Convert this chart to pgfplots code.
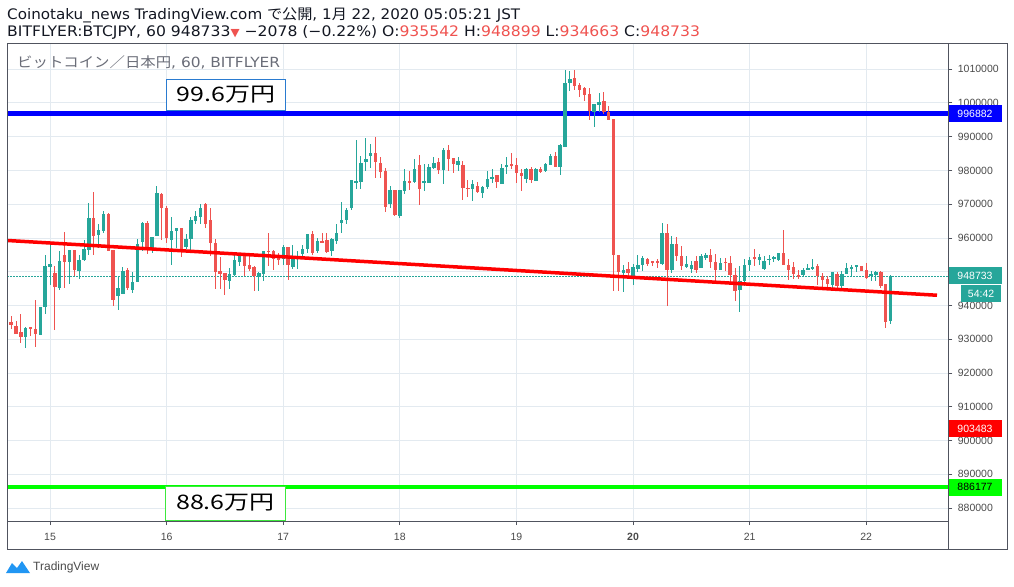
\documentclass[border=0pt]{standalone}
\usepackage{fontspec}
\setmainfont{Liberation Sans}
\newfontfamily\jp{Noto Sans CJK JP}
\newfontfamily\dv{DejaVu Sans}
\usepackage{pgfplots}
\pgfplotsset{compat=1.18}
\usepackage{pgfplotstable}
\usepackage{graphicx}
\definecolor{up}{HTML}{26A69A}
\definecolor{dn}{HTML}{EF5350}
\definecolor{gridc}{HTML}{E3EAF0}
\definecolor{axc}{HTML}{50535E}
\definecolor{txt}{HTML}{4A4A4A}
\definecolor{sub}{HTML}{6A6D78}
\definecolor{bbox}{HTML}{2A7BD0}
\definecolor{gbox}{HTML}{3DE83D}
\definecolor{tvblue}{HTML}{2196F3}
\definecolor{head}{HTML}{131722}

\pgfplotstableread{
i o h l c
1 931150 935500 930500 935110
5 930560 933720 927290 933330
8 931350 939660 931150 939660
9 939460 955090 937380 951830
10 951530 958560 946190 952420
12 945200 956280 944710 953310
14 952820 956580 946490 956380
16 950140 955090 947970 953610
17 953610 959250 953310 956870
18 956580 970230 955090 965780
20 960730 963990 956970 962210
21 962020 967850 961330 966960
24 942730 948760 938570 945300
25 943320 951430 943320 950340
27 944710 949950 943620 947080
28 946880 959740 946880 958360
29 958750 964690 956080 964390
31 956870 960330 955390 960330
32 960530 975370 960530 973200
35 959350 966170 952120 962020
36 962020 963010 957070 963010
38 957370 961030 956580 959550
39 959550 966170 956580 965180
40 964990 967950 964000 966470
41 966170 970130 964000 968750
47 947180 951140 945000 949450
48 949160 955090 948660 953410
49 952820 955590 951630 954800
53 948660 949850 944210 949650
54 949450 956280 947180 956280
58 953610 958060 952120 957370
60 951430 957760 950940 954600
61 954100 956080 950940 954800
62 955390 958060 954800 956870
63 956870 961030 955590 961030
65 956080 960040 955590 959050
68 956080 960040 954600 959840
69 959050 964000 958060 961520
70 964290 970720 961520 965180
71 965180 968940 964000 968150
72 968750 977050 968150 977050
73 976560 988930 974380 976760
74 976560 984280 974380 982100
75 982500 989720 979830 983290
76 984280 987740 980820 985270
80 969930 975370 968940 974090
82 966470 974090 965780 974090
83 973890 980320 972900 976860
85 976560 983290 976360 980320
87 976560 981800 973890 976860
88 976360 981800 976160 981010
89 980820 984080 980520 982100
91 980120 986750 975870 985960
94 981610 984080 979830 982790
97 974580 977050 970920 975870
99 973390 975370 971710 975170
100 975080 979830 974380 977350
101 977550 980320 976360 978050
103 975870 981810 975870 980620
104 981010 983980 978840 981510
108 977350 980820 976360 980320
110 976860 980820 976860 980320
112 979830 982300 979530 981810
113 981510 984970 981510 984280
115 981010 987740 978640 987450
116 986950 1009700 986950 1006040
117 1005850 1009310 1003570 1007030
122 997440 999810 992890 999610
123 999410 1002880 997440 1000400
128 949650 952130 943910 950640
130 948660 952130 946190 951430
131 950940 955090 949950 952130
132 951930 954600 950150 954100
136 952420 964490 952130 961330
138 950640 960530 949650 958060
141 951330 954800 951140 952320
142 950840 953310 949650 952130
144 951140 955290 951140 954600
145 954100 955590 953610 954900
148 950440 954100 950440 952620
152 944510 951630 938080 947370
153 947180 953610 945690 952130
154 951930 954300 950340 953610
156 953610 955290 952130 954400
157 950940 954600 950640 953310
158 953610 954800 952130 953810
159 953900 954600 952920 954400
160 953610 955590 953310 955590
165 948960 951130 948660 950640
166 950640 952420 950440 951130
167 950840 953810 950640 951430
171 946190 949950 945200 949950
173 945890 950150 944700 949450
174 949450 952620 949450 951130
175 950840 951930 948460 951430
176 951630 951830 949950 951830
179 948960 950340 947180 949350
180 948960 950150 947180 949850
183 935542 948899 934663 948733
}\upc

\pgfplotstableread{
i o h l c
2 935110 936990 933130 934120
3 934020 935500 931650 931650
4 932240 937580 928780 930560
6 933530 933720 930860 933230
7 933130 941740 927590 931450
11 949650 951630 932640 945400
13 955090 961720 945200 952820
15 956580 956580 948660 950440
19 965780 973490 954890 960730
22 967060 967460 956080 956080
23 956380 956380 939760 941540
26 950640 951130 944710 945200
30 964390 964980 955390 956870
33 972900 973400 959340 968750
34 968940 969440 958560 959840
37 963010 963010 954300 956280
42 970130 970430 963010 964190
43 965180 968940 954600 958360
44 958360 959840 945000 949850
45 950340 954300 945000 949450
46 949650 949650 943020 947670
50 954600 955590 948660 951830
51 952120 954600 950150 950940
52 951430 951630 944210 948860
55 956280 961520 951630 955790
56 956080 956580 950640 953810
57 955090 955590 952120 953410
59 957370 957370 947670 952120
64 961030 962020 955090 955590
66 959050 961520 958560 958850
67 959350 961520 955590 955790
77 985070 990020 977850 982500
78 982100 984080 977650 979530
79 979730 980620 967660 969140
81 974090 974090 966470 966770
84 976760 979830 974190 976560
86 981510 984470 969740 974380
90 982500 983790 978840 980120
92 985960 987540 979830 983490
93 983590 983590 979330 982000
95 981510 982790 971220 974880
96 974780 977050 972110 974580
98 975370 976660 973390 973590
102 978540 978540 974880 976560
105 981990 985070 980320 981510
106 981510 983780 976170 979140
107 979330 980520 973890 978340
109 980320 981010 976360 977150
111 980320 981110 979140 979630
114 984280 985470 981010 981010
118 1007330 1009700 1003870 1005050
119 1005250 1006040 1001790 1003870
120 1004360 1004760 1000600 1002380
121 1002580 1004560 994870 997630
124 1000600 1003370 996640 997340
125 997340 999120 994960 994960
126 995160 995160 944210 954900
127 954900 954900 944210 949950
129 950840 952820 948660 949650
133 953810 954100 951630 952330
134 953110 953310 951630 952620
135 953110 953900 951140 952620
137 961520 964000 939760 950640
139 958060 960240 953110 954600
140 954800 957570 950640 951630
143 953310 954600 949650 950440
146 955090 956580 951140 952920
147 952920 955290 947180 950440
149 952920 954100 950150 952620
150 952620 954600 946680 948960
151 949160 951130 941440 944210
155 954400 956770 951630 953810
161 955590 962210 951930 951930
162 952120 953610 947670 950640
163 951430 952820 947970 949350
164 949160 950640 947970 948460
168 951630 952320 946190 948660
169 948660 949650 945200 947670
170 947970 948860 945200 946390
172 949450 949950 945200 945890
177 951830 951830 950150 950150
178 950440 952620 947970 948170
181 949850 950150 945200 945890
182 946390 946390 933330 935110
}\dnc

\begin{document}
\begin{tikzpicture}[x=1pt,y=1pt]
\path[use as bounding box] (0,0) rectangle (1014,-586);
% header
\node[anchor=west,inner sep=0,text=head,font=\dv\fontsize{14.5}{16}\selectfont] at (7,-15) {\scalebox{1.045}[1]{Coinotaku\_news TradingView.com {\jp で公開}, 1{\jp 月} 22, 2020 05:05:21 JST}};
\node[anchor=west,inner sep=0,text=head,font=\dv\fontsize{14.5}{16}\selectfont] at (7,-32.5) {\scalebox{1.077}[1]{BITFLYER:BTCJPY, 60 948733{\color{dn}\fontsize{11}{11}\selectfont ▼} −2078 (−0.22\%) O:{\color{dn}935542} H:{\color{dn}948899} L:{\color{dn}934663} C:{\color{dn}948733}}};

\begin{axis}[
  at={(7pt,-521pt)}, anchor=south west,
  scale only axis, width=941.3pt, height=477.7pt,
  xmin=14.631, xmax=22.704, ymin=876150, ymax=1017650,
  clip mode=individual,
  axis line style={axc, line width=0.8pt},
  xtick={15,...,22},
  xticklabels={15,16,17,18,19,\textbf{20},21,22},
  ytick={880000,890000,...,1010000},
  scaled y ticks=false,
  yticklabels={880000,890000,900000,910000,920000,930000,940000,,960000,970000,980000,990000,1000000,1010000},
  yticklabel pos=right, ytick pos=right, xtick pos=bottom,
  tick align=outside, major tick length=4pt,
  tick style={axc, line width=0.8pt},
  xmajorgrids, ymajorgrids,
  grid style={gridc, line width=0.8pt},
  xticklabel style={font=\fontsize{10.5}{12}\selectfont, text=txt, yshift=-5pt},
  yticklabel style={font=\fontsize{10.5}{12}\selectfont, text=txt, xshift=2pt},
]
% horizontal lines
\addplot[blue, line width=4.5pt] coordinates {(14.631,996882) (22.704,996882)};
\addplot[green, line width=4pt] coordinates {(14.631,886177) (22.704,886177)};
\addplot[up, line width=0.8pt, dash pattern=on 1.5pt off 1.5pt] coordinates {(14.631,948733) (22.704,948733)};
% wicks
\addplot[draw=none, mark=none, error bars/.cd, y dir=both, y explicit, error mark=none,
  error bar style={draw=up, line width=1pt}]
  table[x expr={15+(\thisrow{i}-10)/24}, y expr={(\thisrow{h}+\thisrow{l})/2}, y error expr={(\thisrow{h}-\thisrow{l})/2}] {\upc};
\addplot[draw=none, mark=none, error bars/.cd, y dir=both, y explicit, error mark=none,
  error bar style={draw=dn, line width=1pt}]
  table[x expr={15+(\thisrow{i}-10)/24}, y expr={(\thisrow{h}+\thisrow{l})/2}, y error expr={(\thisrow{h}-\thisrow{l})/2}] {\dnc};
% bodies
\addplot[draw=none, mark=none, error bars/.cd, y dir=both, y explicit, error mark=none,
  error bar style={draw=up, line width=3.4pt}]
  table[x expr={15+(\thisrow{i}-10)/24}, y expr={(\thisrow{o}+\thisrow{c})/2}, y error expr={max(abs(\thisrow{c}-\thisrow{o})/2,160)}] {\upc};
\addplot[draw=none, mark=none, error bars/.cd, y dir=both, y explicit, error mark=none,
  error bar style={draw=dn, line width=3.4pt}]
  table[x expr={15+(\thisrow{i}-10)/24}, y expr={(\thisrow{o}+\thisrow{c})/2}, y error expr={max(abs(\thisrow{c}-\thisrow{o})/2,160)}] {\dnc};
% trend line
\addplot[red, line width=3.5pt] coordinates {(14.631,959250) (22.607,943020)};
% annotation boxes
\draw[bbox, line width=1.2pt, fill=white] (axis cs:16.0,1007030) rectangle (axis cs:17.02,997840);
\node[font=\jp\fontsize{20}{21}\selectfont] at (axis cs:16.51,1002435) {\scalebox{1.25}[1]{99.6万円}};
\draw[gbox, line width=1.2pt, fill=white] (axis cs:15.99,886400) rectangle (axis cs:17.02,876400);
\node[font=\jp\fontsize{20}{21}\selectfont] at (axis cs:16.505,881500) {\scalebox{1.25}[1]{88.6万円}};
\node[anchor=west, inner sep=0, text=sub, font=\jp\fontsize{14}{16}\selectfont] at (axis cs:14.717,1011900) {\scalebox{1.1}[1]{ビットコイン／日本円{\dv, 60, BITFLYER}}};
% price labels
\node[anchor=west, fill=blue, text=white, minimum width=53pt, minimum height=17pt, inner sep=0, font=\fontsize{10.5}{12}\selectfont] at (axis cs:22.704,996882) {996882};
\node[anchor=west, fill=up, text=white, minimum width=53pt, minimum height=17pt, inner sep=0, font=\fontsize{10.5}{12}\selectfont] at (axis cs:22.704,948733) {948733};
\node[anchor=north east, fill=up, text=white, minimum width=40pt, minimum height=17pt, inner sep=0, font=\fontsize{10.5}{12}\selectfont] at (axis cs:22.704,948733) [xshift=53pt, yshift=-9pt] {54:42};
\node[anchor=west, fill=red, text=white, minimum width=53pt, minimum height=17pt, inner sep=0, font=\fontsize{10.5}{12}\selectfont] at (axis cs:22.704,903483) {903483};
\node[anchor=west, fill=green, text=black, minimum width=53pt, minimum height=17pt, inner sep=0, font=\fontsize{10.5}{12}\selectfont] at (axis cs:22.704,886177) {886177};
\end{axis}
% outer frame
\draw[axc, line width=0.8pt] (7,-43.3) rectangle (1007.3,-549);
\draw[axc, line width=0.8pt] (948.3,-521) -- (948.3,-549);
% logo
\fill[tvblue] (6,-573) -- (12,-563) -- (17,-568) -- (22,-561) -- (30,-573) -- cycle;
\node[anchor=west, inner sep=0, text=txt, font=\fontsize{12}{14}\selectfont] at (33,-567) {TradingView};
\end{tikzpicture}
\end{document}
